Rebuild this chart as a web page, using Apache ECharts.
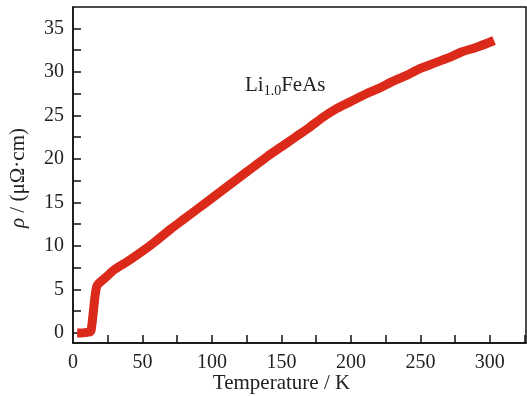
<!DOCTYPE html>
<html><head><meta charset="utf-8">
<script src="https://cdn.jsdelivr.net/npm/echarts@6/dist/echarts.min.js"></script>
<style>html,body{margin:0;padding:0;background:#fff}#c{width:527px;height:396px}</style>
</head><body><div id="c"></div>
<script>
const temperature = [3,6,9,11,12,13,14,15,16,17,18,20,25,30,40,50,60,70,80,90,100,110,120,130,140,150,160,170,180,190,200,210,220,230,240,250,260,270,280,290,300,303];
const resistivity = [0.0,0.0,0.05,0.1,0.1,0.3,1.5,3.0,4.4,5.3,5.6,5.9,6.6,7.3,8.3,9.4,10.6,11.9,13.1,14.3,15.5,16.7,17.9,19.1,20.3,21.4,22.5,23.6,24.8,25.8,26.6,27.4,28.1,28.9,29.6,30.4,31.0,31.6,32.3,32.8,33.4,33.6];
const xTickLabels = [0,50,100,150,200,250,300];
const xTickMarks = [25,50,75,100,125,150,175,200,225,250,275,300,325];
const yTickLabels = [0,5,10,15,20,25,30,35];
const yTickMarks = [0,2.5,5,7.5,10,12.5,15,17.5,20,22.5,25,27.5,30,32.5,35,37.5];

const serif = 'Liberation Serif';
const chart = echarts.init(document.getElementById('c'), null, {renderer:'canvas'});
chart.setOption({
  animation:false,
  backgroundColor:'#fff',
  grid:{left:73,right:1,top:7,bottom:53,containLabel:false,outerBoundsMode:'none',show:true,borderColor:'#111',borderWidth:1.5,backgroundColor:'transparent'},
  xAxis:{type:'value',min:0,max:326,
    name:'Temperature / K',nameLocation:'middle',nameGap:30,nameMoveOverlap:false,
    nameTextStyle:{fontFamily:serif,fontSize:21,color:'#222',padding:[0,36,0,0]},
    axisLine:{show:true,onZero:false,lineStyle:{color:'#111',width:1.5}},
    axisTick:{show:true,inside:true,length:8,customValues:xTickMarks,lineStyle:{color:'#111',width:1.5}},
    axisLabel:{customValues:xTickLabels,fontFamily:serif,fontSize:20,color:'#222',margin:10},
    splitLine:{show:false}},
  yAxis:{type:'value',min:-1.15,max:37.45,
    name:'{i|ρ} / (μΩ·cm)',nameLocation:'middle',nameGap:44,nameRotate:90,nameMoveOverlap:false,
    nameTextStyle:{fontFamily:serif,fontSize:21,color:'#222',padding:[0,6,0,0],
      rich:{i:{fontFamily:serif,fontStyle:'italic',fontSize:21,color:'#222'}}},
    axisLine:{show:true,onZero:false,lineStyle:{color:'#111',width:1.5}},
    axisTick:{show:true,inside:true,length:8,customValues:yTickMarks,lineStyle:{color:'#111',width:1.5}},
    axisLabel:{customValues:yTickLabels,fontFamily:serif,fontSize:20,color:'#222',margin:9},
    splitLine:{show:false}},
  graphic:[{type:'text',left:245,top:75,style:{
    text:'{a|Li}{s|1.0}{a|FeAs}',fontFamily:serif,
    rich:{a:{fontFamily:serif,fontSize:21,fill:'#222'},s:{fontFamily:serif,fontSize:14,fill:'#222',padding:[11,0,0,0]}}}}],
  series:[{type:'line',data:temperature.map((t,i)=>[t,resistivity[i]]),
    showSymbol:false,smooth:0.2,
    lineStyle:{color:'#dc2a1a',width:9,cap:'butt',join:'round'}}]
});
</script></body></html>
